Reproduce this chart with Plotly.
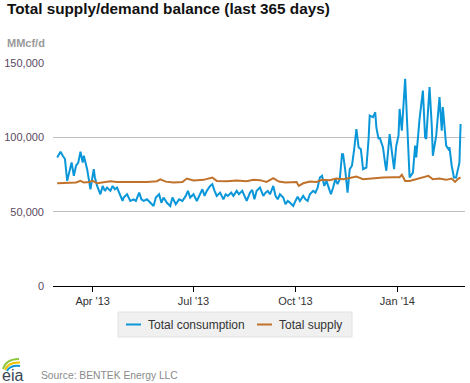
import pandas as pd
import plotly.graph_objects as go

# ---------------- data ----------------
start_date = "2013-02-28"

cons_day = [0, 3, 5, 7, 9, 11, 13, 15, 17, 19, 21, 23, 24, 27, 29, 30, 33, 34, 36, 39,
            41, 43, 45, 48, 50, 52, 54, 57, 59, 60, 63, 66, 69, 71, 74, 76, 78, 81, 84, 87,
            89, 92, 94, 96, 99, 102, 104, 107, 110, 113, 116, 118, 120, 123, 126, 128, 131, 133, 135, 138,
            140, 142, 144, 147, 150, 152, 154, 157, 159, 162, 164, 167, 169, 171, 174, 176, 178, 180, 183, 186,
            188, 190, 192, 195, 197, 199, 201, 204, 206, 208, 210, 213, 215, 217, 219, 222, 224, 226, 228, 231,
            233, 235, 237, 239, 241, 243, 245, 247, 249, 251, 253, 255, 257, 258, 260, 262, 264, 266, 268, 270,
            272, 274, 276, 279, 281, 282, 285, 287, 288, 290, 291, 294, 296, 297, 300, 301, 304, 306, 308, 309,
            311, 314, 316, 318, 321, 323, 324, 327, 330, 332, 333, 336, 338, 339, 342, 345, 347, 348, 351, 353,
            354, 356, 358, 360, 363, 364]
cons_val = [86500, 90300, 87600, 85400, 70700, 76300, 83100, 74100, 80900, 83000, 90300, 83000, 87600, 78600, 67300, 65100, 78600, 73000, 67300, 61700,
            67300, 64000, 66200, 64000, 67300, 65000, 66200, 60600, 57200, 59500, 61700, 57200, 58300, 57200, 62800, 58300, 57200, 58300, 56000, 53800,
            59500, 61700, 56000, 59500, 56000, 53800, 59500, 55000, 58300, 57200, 60600, 64000, 59500, 61700, 57200, 60600, 65100, 60600, 64000, 67300,
            68500, 64000, 60600, 62800, 58300, 61700, 60600, 62800, 60600, 64000, 61700, 64000, 60600, 57200, 62800, 64600, 58300, 64000, 66200, 60600,
            62800, 64000, 61700, 67300, 60600, 58300, 61700, 59500, 55000, 57200, 56100, 53800, 57200, 60100, 57200, 60600, 58300, 57200, 61700, 64000,
            62800, 66200, 73000, 74100, 67300, 70700, 66200, 61700, 66200, 71800, 68500, 71800, 88700, 88700, 77500, 62800, 78600, 80900, 92100, 105600,
            93200, 92100, 78600, 79700, 98900, 114600, 113500, 116900, 106700, 98900, 100000, 93200, 82000, 77500, 102200, 96600, 78600, 94400, 101100, 119100,
            104500, 139400, 107900, 73000, 76300, 94400, 86500, 112400, 131500, 100000, 98900, 133800, 107900, 87600, 101100, 127000, 104500, 120300, 94400, 92100,
            93200, 80900, 73000, 73000, 83100, 109000]

supply_day = [0, 9, 17, 21, 24, 29, 32, 36, 42, 48, 54, 63, 72, 81, 90, 93, 98, 105, 113, 117,
              123, 132, 140, 144, 153, 162, 171, 177, 183, 189, 195, 200, 206, 212, 216, 218, 222, 228, 234, 239,
              246, 252, 258, 264, 270, 276, 285, 294, 303, 309, 311, 314, 318, 324, 330, 335, 339, 345, 351, 356,
              359, 362, 364]
supply_val = [69100, 69100, 69600, 70700, 69600, 70000, 70700, 69100, 70000, 70500, 70000, 70000, 69600, 70000, 70500, 71800, 70200, 69600, 70000, 72300,
              71000, 71400, 73000, 70700, 70500, 71000, 70500, 71400, 71200, 70000, 72500, 70300, 69600, 69600, 70000, 67300, 69100, 70300, 70000, 71400,
              71200, 72300, 71800, 72700, 73600, 71800, 72500, 73000, 73200, 73200, 74800, 70700, 70700, 71800, 73000, 74100, 71800, 72300, 71400, 72300,
              70000, 72300, 73000]

tick_dates = ["2013-04-01", "2013-07-01", "2013-10-01", "2014-01-01"]
tick_labels = ["Apr '13", "Jul '13", "Oct '13", "Jan '14"]
y_ticks = [0, 50000, 100000, 150000]

series_names = ["Total consumption", "Total supply"]
series_colors = ["#0a97d9", "#c0722c"]

# ---------------- figure ----------------
W, H = 470, 383
ML, MR, MT, MB = 53, 5, 63, 97
PW, PH = W - ML - MR, H - MT - MB


def px(x):
    return (x - ML) / PW


def py(y):
    return (H - MB - y) / PH


base = pd.Timestamp(start_date)
cons_x = [base + pd.Timedelta(days=d) for d in cons_day]
supply_x = [base + pd.Timedelta(days=d) for d in supply_day]

FONT = "Liberation Sans, Arial, sans-serif"

fig = go.Figure()
fig.add_trace(go.Scatter(x=cons_x, y=cons_val, mode="lines", name=series_names[0],
                         line=dict(color=series_colors[0], width=2)))
fig.add_trace(go.Scatter(x=supply_x, y=supply_val, mode="lines", name=series_names[1],
                         line=dict(color=series_colors[1], width=2)))

fig.update_layout(
    width=W, height=H,
    margin=dict(l=ML, r=MR, t=MT, b=MB, pad=0),
    paper_bgcolor="white", plot_bgcolor="white",
    showlegend=False,
    font=dict(family=FONT, size=11, color="#555"),
    xaxis=dict(
        type="date",
        range=["2013-02-24 05:00", "2014-03-03"],
        tickvals=tick_dates, ticktext=tick_labels,
        ticks="outside", ticklen=5, tickcolor="#000", tickwidth=1,
        showline=True, linecolor="#000", linewidth=1,
        showgrid=False, zeroline=False,
        tickfont=dict(size=11, color="#333"),
    ),
    yaxis=dict(
        range=[0, 150000],
        tickvals=y_ticks, tickformat=",d",
        showgrid=True, gridcolor="#c0c0c0", gridwidth=1,
        zeroline=False, showline=False, ticks="",
        ticklabelstandoff=8,
        tickfont=dict(size=11, color="#5a4a60"),
    ),
)

annotations = [
    dict(text="<b>Total supply/demand balance (last 365 days)</b>", x=px(5), y=py(9),
         xanchor="left", yanchor="middle", font=dict(size=15.3, color="#111", family=FONT)),
    dict(text="<b>MMcf/d</b>", x=px(5), y=py(43), xanchor="left", yanchor="middle",
         font=dict(size=11, color="#9a9a9a", family=FONT)),
    dict(text="Source: BENTEK Energy LLC", x=px(39), y=py(375), xanchor="left", yanchor="middle",
         font=dict(size=10.3, color="#8a8a8a", family=FONT)),
    dict(text="eia", x=px(0), y=py(375), xanchor="left", yanchor="middle",
         font=dict(size=16, color="#3a4654", family=FONT)),
    dict(text=series_names[0], x=px(146), y=py(324.5), xanchor="left", yanchor="middle",
         font=dict(size=12, color="#333", family=FONT)),
    dict(text=series_names[1], x=px(277), y=py(324.5), xanchor="left", yanchor="middle",
         font=dict(size=12, color="#333", family=FONT)),
]
for a in annotations:
    a.update(xref="paper", yref="paper", showarrow=False)
fig.update_layout(annotations=annotations)

shapes = [
    dict(type="rect", x0=px(118), x1=px(352), y0=py(312), y1=py(337),
         fillcolor="#f0f0f0", line=dict(color="#e2e2e2", width=1), layer="below"),
    dict(type="line", x0=px(126), x1=px(141), y0=py(324.5), y1=py(324.5),
         line=dict(color=series_colors[0], width=2)),
    dict(type="line", x0=px(257), x1=px(272), y0=py(324.5), y1=py(324.5),
         line=dict(color=series_colors[1], width=2)),
]


def arc(p0, c, p1, color):
    path = "M {} {} Q {} {} {} {}".format(px(p0[0]), py(p0[1]), px(c[0]), py(c[1]), px(p1[0]), py(p1[1]))
    return dict(type="path", path=path, line=dict(color=color, width=2))


shapes += [
    arc((3, 369), (6, 359), (19, 359), "#8dc63f"),
    arc((5, 370), (8, 362), (20, 362.5), "#f2c200"),
    arc((7, 371), (10, 365), (20, 366), "#0a97d9"),
]
for s in shapes:
    s.update(xref="paper", yref="paper")
fig.update_layout(shapes=shapes)

fig.write_html(
    "out.html",
    config={"displayModeBar": False},
    post_script="document.body.style.margin='0';document.body.style.padding='0';document.body.style.overflow='hidden';",
)
